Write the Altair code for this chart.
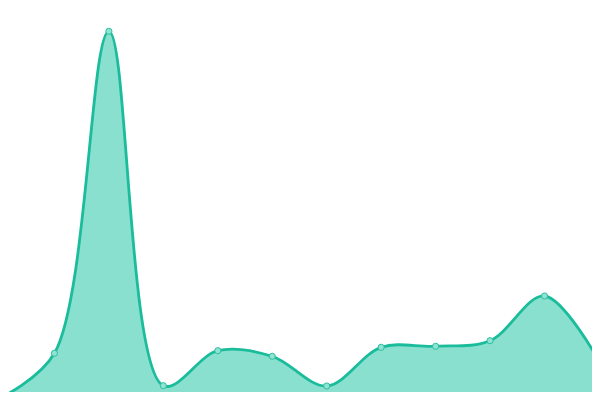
import altair as alt
import pandas as pd

idx = list(range(12))
values = [2, 46.7, 368.7, 14.3, 49.3, 43.7, 14, 52.7, 53.7, 59.3, 104, 39]

df = pd.DataFrame({"i": idx, "v": values})

x = alt.X("i:Q", scale=alt.Scale(domain=[0.1469, 10.872], nice=False, zero=False), axis=None)
y = alt.Y("v:Q", scale=alt.Scale(domain=[8, 392], nice=False, zero=False), axis=None)

area = alt.Chart(df).mark_area(
    interpolate="catmull-rom", color="#8ae0cf", opacity=1, clip=True,
    line={"color": "#1abc9c", "strokeWidth": 2.8}
).encode(x=x, y=y, y2=alt.value(500))

pts = alt.Chart(df).mark_point(
    filled=True, size=38, fill="#90e2d2", stroke="#2cbf9f", strokeWidth=1, opacity=1, clip=True
).encode(x=x, y=y)

chart = (area + pts).properties(
    width=584, height=384, padding=0,
    autosize=alt.AutoSizeParams(type="none")
).configure_view(stroke=None)

chart.save("out.html", embed_options={"renderer": "svg", "actions": False})
